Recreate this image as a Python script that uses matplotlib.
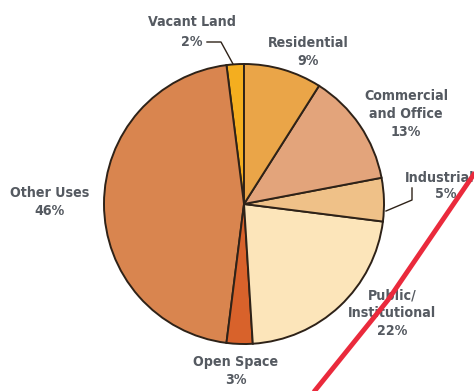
import numpy as np
import matplotlib.pyplot as plt

# land use shares, in the order they are drawn (counter-clockwise from 12 o'clock)
categories = ['Vacant Land', 'Other Uses', 'Open Space', 'Public/\nInstitutional',
              'Industrial', 'Commercial\nand Office', 'Residential']
shares = [2, 46, 3, 22, 5, 13, 9]
colors = ['#F4AE1F', '#D9854F', '#D8622B', '#FCE5BA', '#EFC188', '#E3A47B', '#EAA548']

W, H = 474, 391

def py(y):
    # image rows run downward, the axes run upward
    return H - y

fig = plt.figure(figsize=(W / 100, H / 100), dpi=100)
ax = fig.add_axes([0, 0, 1, 1])

ax.pie(shares, colors=colors, startangle=90, counterclock=True,
       center=(244, py(204)), radius=140, frame=True,
       wedgeprops=dict(edgecolor='#2e2218', linewidth=1.4))
ax.set_xlim(0, W)
ax.set_ylim(0, H)
ax.set_aspect('equal')
ax.axis('off')

txt = dict(ha='center', va='center', fontsize=10.2, color='#555a61', weight='bold',
           family='DejaVu Sans', stretch='condensed', linespacing=1.35)

def label(x, y, name, value):
    ax.text(x, py(y), f'{name}\n{value}%', **txt)

ax.text(192, py(22), categories[0], **txt)
ax.text(192, py(42), f'{shares[0]}%', **txt)
label(308, 52, categories[6], shares[6])
label(406, 114, categories[5], shares[5])
ax.text(405, py(178), categories[4], **dict(txt, ha='left'))
ax.text(446, py(194), f'{shares[4]}%', **txt)
label(392, 313, categories[3], shares[3])
label(236, 371, categories[2], shares[2])
label(50, 202, categories[1], shares[1])

# leader lines for the two thin slices
lc = dict(color='#2e2218', linewidth=1.0)
ax.plot([207, 221, 233], [py(42), py(42), py(64)], **lc)
ax.plot([412, 412, 386], [py(188), py(200), py(211)], **lc)

# red strike line across the lower right
ax.plot([313, 388, 472, 478], [py(393), py(300), py(177), py(168)],
        color='#EA2A3C', linewidth=3.5, solid_capstyle='butt', zorder=5)

fig.savefig('out.png', dpi=100)
